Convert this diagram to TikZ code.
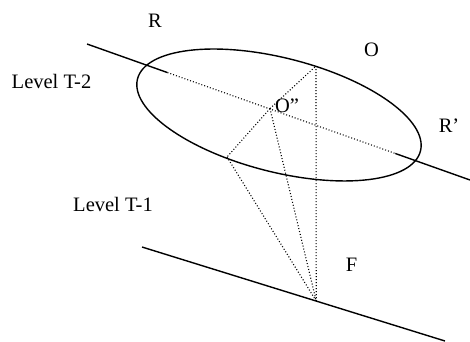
\documentclass[tikz,border=0pt]{standalone}
\usepackage{fontspec}
\setmainfont{Liberation Serif}
\usetikzlibrary{calc}
\begin{document}
\begin{tikzpicture}[x=1pt,y=-1pt,
    lbl/.style={font=\fontsize{20.5}{24}\selectfont, inner sep=0pt},
    solidline/.style={draw=black, line width=1.4pt},
    dotline/.style={draw=black, line width=1.1pt, dash pattern=on 1pt off 2pt}]
    \useasboundingbox (0,0) rectangle (470,341);
    %%% Points
    \coordinate (R1) at (87,44);
    \coordinate (R2) at (470,180);
    \coordinate (C) at (279,115);
    \coordinate (Opp) at (270,108.5);
    \coordinate (T) at (316,66);
    \coordinate (Q) at (227,157);
    \coordinate (L1) at (142,247);
    \coordinate (L2) at (445,341);
    \coordinate (F) at ($(L1)!0.575!(L2)$);
    %%% Ellipse (level T-2)
    \draw[solidline, rotate around={-14.3:(C)}] (C) ellipse [x radius=146pt, y radius=57pt];
    %%% Upper line: solid outside, dotted inside
    \draw[solidline] (R1) -- ($(R1)!0.21!(R2)$);
    \draw[dotline] ($(R1)!0.21!(R2)$) -- ($(R1)!0.805!(R2)$);
    \draw[solidline] ($(R1)!0.805!(R2)$) -- (R2);
    %%% Lower line (level T-1)
    \draw[solidline] (L1) -- (L2);
    %%% Dotted construction lines
    \draw[dotline] (Opp) -- (T);
    \draw[dotline] (Opp) -- (Q);
    \draw[dotline] (Opp) -- (F);
    \draw[dotline] (Q) -- (F);
    \draw[dotline] (T) -- (F);
    %%% Labels
    \node[lbl] (lblR) at (155,20.5) {R};
    \node[lbl] (lblO) at (371.5,49.5) {O};
    \node[lbl] (lblOpp) at (287,105.5) {O”};
    \node[lbl] (lblRp) at (449,125.5) {R’};
    \node[lbl] (lblF) at (351.5,265) {F};
    \node[lbl] (lvlTtwo) at (51.5,81.5) {Level T-2};
    \node[lbl] (lvlTone) at (113,204.5) {Level T-1};
\end{tikzpicture}
\end{document}
